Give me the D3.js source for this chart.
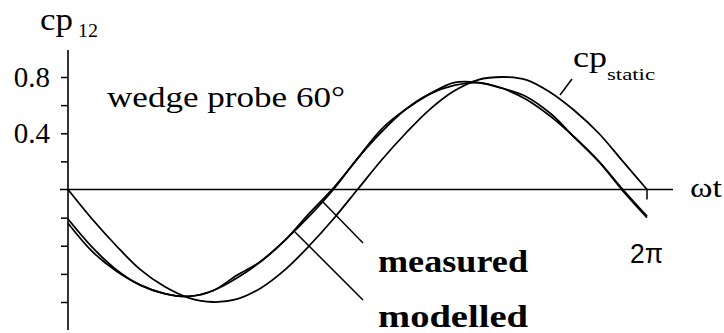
<!DOCTYPE html>
<html><head><meta charset="utf-8">
<script src="https://cdn.jsdelivr.net/npm/d3@7"></script>
<style>html,body{margin:0;padding:0;background:#fff;}svg{display:block;}</style>
</head><body>
<script>
// phase angle ωt in degrees
const phase = [0,15,30,45,60,75,90,105,120,135,150,165,180,195,210,225,240,255,270,285,300,315,330,345,360];
const measured = [-0.21,-0.41,-0.57,-0.68,-0.74,-0.76,-0.72,-0.63,-0.51,-0.36,-0.19,0.00,0.22,0.41,0.57,0.68,0.74,0.76,0.72,0.64,0.52,0.37,0.20,-0.01,-0.20];
const modelled = [-0.24,-0.44,-0.58,-0.68,-0.74,-0.76,-0.72,-0.61,-0.51,-0.36,-0.17,0.01,0.22,0.43,0.57,0.68,0.76,0.76,0.72,0.66,0.54,0.37,0.20,0.00,-0.19];
const cpStatic = [0.00,-0.21,-0.40,-0.57,-0.69,-0.77,-0.80,-0.78,-0.70,-0.57,-0.40,-0.21,0.00,0.21,0.40,0.57,0.70,0.78,0.80,0.78,0.69,0.56,0.40,0.20,0.00];
const yTicks = [-0.8,-0.6,-0.4,-0.2,0.2,0.4,0.6,0.8];
const yTickLabels = {"0.8":"0.8","0.4":"0.4"};

const W = 724, H = 333;
const SERIF = "Liberation Serif";
const SANS = "Liberation Sans";
const svg = d3.select("body").append("svg").attr("width", W).attr("height", H);
const x = d3.scaleLinear().domain([0, 360]).range([68, 647]);
const y = d3.scaleLinear().domain([-0.8, 0.8]).range([302, 77]);

// y axis
const yAxis = d3.axisLeft(y).tickValues(yTicks).tickSize(7).tickPadding(11)
  .tickFormat(d => yTickLabels[d.toFixed(1)] || "");
const gy = svg.append("g").attr("transform", `translate(${x(0)},0)`).call(yAxis)
  .attr("font-family", SERIF).attr("font-size", 29);
gy.select(".domain").remove();
gy.selectAll(".tick line").attr("stroke", "#000").attr("stroke-width", 1.5);
gy.selectAll(".tick text").attr("font-family", SERIF).attr("font-size", 29).attr("fill", "#000").attr("dy", "0.33em");
svg.append("line").attr("x1", x(0)).attr("x2", x(0)).attr("y1", 50).attr("y2", 330)
  .attr("stroke", "#000").attr("stroke-width", 1.6);

// x axis
svg.append("line").attr("x1", 60).attr("x2", 673).attr("y1", y(0)).attr("y2", y(0))
  .attr("stroke", "#000").attr("stroke-width", 1.5);
svg.append("line").attr("x1", x(360)).attr("x2", x(360)).attr("y1", y(0)).attr("y2", y(0) + 10)
  .attr("stroke", "#000").attr("stroke-width", 1.5);

// curves
const line = (vals) => d3.line().x((d, i) => x(phase[i])).y(d => y(d)).curve(d3.curveCatmullRom)(vals);
[cpStatic, measured, modelled].forEach(v => {
  svg.append("path").attr("d", line(v)).attr("fill", "none").attr("stroke", "#000").attr("stroke-width", 1.8);
});

// texts
function txt(s, xx, yy, size, opts = {}) {
  const t = svg.append("text").attr("x", xx).attr("y", yy).attr("font-family", opts.family || SERIF)
    .attr("font-size", size).attr("font-weight", opts.bold ? "bold" : "normal").attr("fill", "#000").text(s);
  if (opts.len) t.attr("textLength", opts.len).attr("lengthAdjust", "spacingAndGlyphs");
  return t;
}
txt("cp", 40, 30, 32, {len: 33});
txt("12", 78, 37, 18, {len: 20});
txt("wedge probe 60°", 107, 107, 29, {len: 238});
txt("cp", 573, 67, 30, {len: 34});
txt("static", 607, 80, 17, {len: 48});
txt("ωt", 690, 197, 27, {len: 32});
txt("2π", 630, 263, 27, {family: SANS, len: 33});
txt("measured", 378, 272, 31, {bold: true, len: 150});
txt("modelled", 378, 327, 31, {bold: true, len: 150});

// leader lines
const leaders = [[572, 79, 560, 95], [323, 202, 363, 243], [295, 232, 363, 300]];
leaders.forEach(l => svg.append("line").attr("x1", l[0]).attr("y1", l[1]).attr("x2", l[2]).attr("y2", l[3])
  .attr("stroke", "#000").attr("stroke-width", 1.5));
</script>
</body></html>
